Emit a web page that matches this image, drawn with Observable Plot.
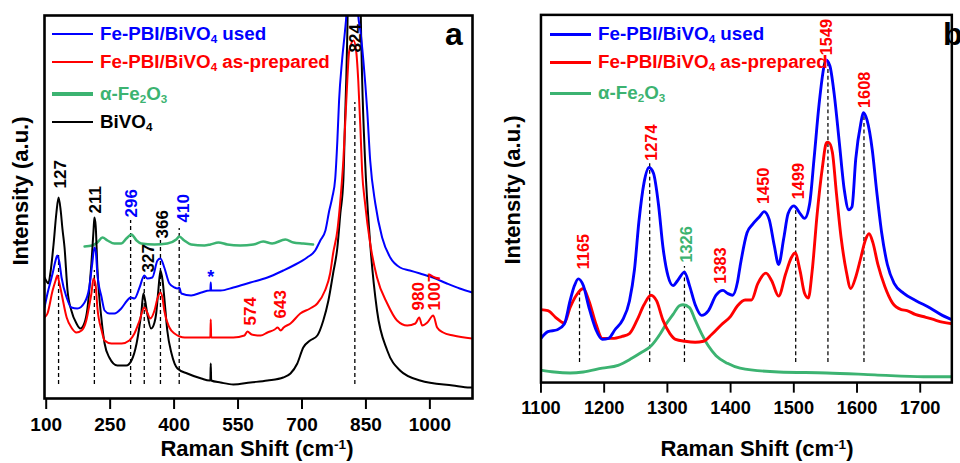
<!DOCTYPE html>
<html><head><meta charset="utf-8">
<script src="https://cdn.jsdelivr.net/npm/d3@7"></script>
<script src="https://cdn.jsdelivr.net/npm/@observablehq/plot@0.6"></script>
<style>
html,body{margin:0;padding:0;background:#fff;}
body{width:960px;height:463px;overflow:hidden;position:relative;font-family:"Liberation Sans",Arial,Helvetica,sans-serif;font-weight:bold;}
.panel{position:absolute;top:0;}
.lg{position:absolute;display:flex;align-items:center;height:20px;font-size:18.8px;line-height:1;white-space:nowrap;}
.sw{display:inline-block;width:41px;margin-right:7px;}
sub{font-size:0.62em;vertical-align:-0.28em;line-height:0;}
sup{font-size:0.62em;vertical-align:0.55em;line-height:0;}
.xt{position:absolute;top:438px;font-size:22px;line-height:22px;white-space:nowrap;transform:translateX(-50%);}
.yt{position:absolute;font-size:22px;line-height:22px;white-space:nowrap;transform:translate(-50%,-50%) rotate(-90deg);}
.tag{position:absolute;top:18px;font-size:32px;line-height:32px;}
</style></head>
<body>
<div id="pa" class="panel" style="left:0"></div>
<div id="pb" class="panel" style="left:480px"></div>
<div id="overlay"></div>
<script>
// ---------- Panel a data (Raman shift cm-1, intensity a.u.) ----------
const bivo4A = [[96,121],[101,117],[105,115],[110,126],[117,153],[124,186],[129,201],[134,188],[138,170],[143,151],[150,108],[159,88],[171,75],[180,70],[190,76],[197,91],[201,108],[206,135],[211,168],[213,181],[216,173],[220,131],[230,78],[237,55],[248,41],[267,33],[288,33],[300,38],[312,55],[319,73],[323,85],[328,105],[332,98],[337,85],[346,70],[354,76],[358,85],[363,108],[368,128],[373,118],[377,101],[384,68],[394,45],[408,30],[431,25],[464,20],[483,18],[485,18],[486,35],[487,18],[509,16],[539,14],[579,16],[619,18],[656,21],[673,25],[689,35],[703,51],[719,58],[736,63],[750,78],[762,98],[773,125],[783,151],[790,185],[797,218],[801,278],[804,321],[806,358],[823,898],[839,358],[841,321],[848,238],[860,155],[876,88],[900,48],[930,28],[977,18],[1054,13],[1094,11],[1100,11]];
const usedA = [[96,91],[103,105],[115,125],[122,138],[126,143],[131,136],[136,121],[148,101],[159,91],[173,90],[190,96],[201,111],[208,135],[213,151],[216,148],[220,125],[230,101],[237,88],[248,85],[260,85],[276,90],[290,98],[298,101],[307,100],[319,111],[330,123],[337,120],[349,121],[361,138],[368,140],[377,131],[389,115],[401,111],[408,110],[412,111],[417,105],[440,103],[464,106],[483,108],[485,108],[486,116],[487,108],[509,108],[539,111],[579,116],[619,121],[656,128],[680,133],[712,141],[731,148],[743,158],[755,168],[764,188],[771,201],[778,220],[783,258],[787,298],[794,338],[801,368],[804,383],[818,700],[832,383],[837,368],[844,338],[853,288],[860,238],[872,195],[888,161],[907,141],[930,131],[953,128],[977,125],[1007,121],[1040,115],[1070,110],[1100,106]];
const prepA = [[96,81],[103,85],[115,108],[122,118],[126,123],[131,115],[136,105],[148,81],[159,71],[171,66],[183,68],[194,78],[201,93],[206,105],[211,120],[216,113],[220,91],[230,68],[237,58],[253,55],[277,55],[295,58],[307,65],[319,78],[330,91],[337,86],[344,80],[354,88],[361,100],[368,106],[373,100],[377,88],[389,71],[401,65],[425,61],[455,61],[483,61],[485,61],[486,79],[487,61],[509,61],[539,61],[565,63],[572,67],[582,64],[603,63],[619,66],[636,69],[643,71],[650,68],[657,71],[673,75],[696,85],[719,90],[736,95],[754,108],[766,125],[773,145],[783,168],[790,198],[797,238],[804,298],[811,348],[821,358],[827,348],[832,318],[837,271],[841,228],[848,195],[860,155],[876,121],[900,95],[923,78],[947,73],[966,75],[975,81],[982,73],[994,76],[1008,83],[1017,71],[1031,66],[1055,63],[1100,60]];
const fe2o3A = [[190,152],[208,153],[220,156],[232,161],[244,158],[260,155],[276,155],[288,160],[300,164],[312,158],[323,155],[354,154],[384,155],[405,159],[412,162],[424,158],[440,154],[471,153],[485,154],[504,156],[525,154],[555,153],[586,154],[609,157],[630,155],[661,159],[680,156],[703,155],[726,154]];
const ticksA = [100,250,400,550,700,850,1000];
const dashXA = [129,213,298,330,368,412,824];
const dashTopA = [143,128,178,121,158,170,296];
const dashBottomA = 14;
const peakTextA = ["127","211","296","327","366","410","574","643","980","1007","824"];
const peakXA = [133,216,300,340,373,422,579,649,973,1010,825];
const peakYA = [210,185,181,126,160,176,73,80,88,88,346];
const peakSeriesA = ["k","k","u","k","k","u","p","p","p","p","k"];
const starA = [{x:486, y:121, t:"*"}];

// ---------- Panel b data ----------
const usedB = [[1100,46],[1111,53],[1126,55],[1137,61],[1146,85],[1153,101],[1159,108],[1167,101],[1176,78],[1187,55],[1197,45],[1207,46],[1217,55],[1229,65],[1240,85],[1248,118],[1255,168],[1263,208],[1271,224],[1278,218],[1286,185],[1293,141],[1301,111],[1309,101],[1316,106],[1327,115],[1335,101],[1344,81],[1354,70],[1365,75],[1377,91],[1388,96],[1395,93],[1403,91],[1411,105],[1415,121],[1426,156],[1435,165],[1446,173],[1453,178],[1461,170],[1469,143],[1476,123],[1484,150],[1491,176],[1500,184],[1510,176],[1517,171],[1525,186],[1532,233],[1540,290],[1548,330],[1551,336],[1557,330],[1564,300],[1572,250],[1580,200],[1587,180],[1592,183],[1598,233],[1606,270],[1610,281],[1616,273],[1624,243],[1631,200],[1639,156],[1648,123],[1659,103],[1674,93],[1694,85],[1715,78],[1735,70],[1752,65]];
const prepB = [[1100,76],[1111,75],[1123,68],[1137,62],[1146,78],[1156,91],[1167,98],[1176,85],[1187,61],[1197,46],[1213,46],[1228,48],[1240,51],[1252,65],[1263,81],[1274,91],[1283,85],[1293,65],[1304,51],[1313,45],[1328,43],[1344,42],[1357,43],[1370,50],[1385,60],[1400,69],[1411,80],[1423,86],[1433,86],[1443,103],[1456,114],[1465,106],[1476,90],[1487,113],[1496,130],[1502,135],[1510,116],[1517,93],[1523,88],[1529,116],[1537,176],[1545,223],[1552,250],[1555,250],[1561,240],[1567,200],[1575,150],[1583,116],[1590,98],[1598,110],[1606,130],[1613,148],[1619,155],[1625,146],[1633,123],[1644,100],[1656,83],[1670,76],[1679,75],[1692,71],[1709,68],[1724,65],[1735,63],[1752,61]];
const fe2o3B = [[1100,13],[1121,11],[1146,10],[1167,11],[1197,15],[1222,18],[1243,25],[1258,31],[1274,38],[1289,51],[1298,61],[1309,71],[1319,80],[1325,81],[1335,78],[1344,65],[1354,51],[1365,38],[1377,28],[1395,20],[1415,15],[1476,11],[1552,10],[1628,8],[1705,6],[1752,6]];
const ticksB = [1100,1200,1300,1400,1500,1600,1700];
const dashXB = [1161,1272,1327,1503,1554,1611];
const dashTopB = [98,228,121,183,336,281];
const dashBottomB = 21;
const peakTextB = ["1165","1274","1326","1383","1450","1499","1549","1608"];
const peakXB = [1167,1275,1330,1385,1453,1508,1552,1613];
const peakYB = [118,231,125,103,186,191,341,286];
const peakSeriesB = ["p","p","f","p","p","p","p","p"];

// ---------- styling ----------
const COLORS = {u:"#0000ff", p:"#ff0000", f:"#3cb371", k:"#000000"};
const FONT = "Liberation Sans, Arial, Helvetica, sans-serif";

function peakMarks(texts, xs, ys, series){
  const rows = texts.map((t,i)=>({t, x:xs[i], y:ys[i], s:series[i]}));
  return Object.keys(COLORS).map(k => Plot.text(rows.filter(d=>d.s===k), {
    x:"x", y:"y", text:"t", rotate:-90, textAnchor:"start", fill:COLORS[k],
    fontSize:17, fontWeight:"bold", fontFamily:FONT
  }));
}
function dashMarks(xs, tops, bottom){
  const rows = xs.map((x,i)=>({x, y2:tops[i], y1:bottom}));
  return Plot.ruleX(rows, {x:"x", y1:"y1", y2:"y2", stroke:"black", strokeWidth:1.3, strokeDasharray:"4,3"});
}
function line(data, color, w){
  return Plot.line(data, {x:d=>d[0], y:d=>d[1], stroke:color, strokeWidth:w, curve:"monotone-x", clip:true});
}

const commonStyle = {fontFamily:FONT, fontWeight:"bold", fontSize:"19px", background:"transparent", overflow:"visible"};

const plotA = Plot.plot({
  width:480, height:463, marginLeft:44, marginRight:8, marginTop:15, marginBottom:65,
  style: commonStyle,
  x:{domain:[96,1100], label:null},
  y:{domain:[0,383], axis:null},
  marks:[
    dashMarks(dashXA, dashTopA, dashBottomA),
    line(fe2o3A, COLORS.f, 2.5),
    line(bivo4A, COLORS.k, 2),
    line(prepA, COLORS.p, 2),
    line(usedA, COLORS.u, 2),
    ...peakMarks(peakTextA, peakXA, peakYA, peakSeriesA),
    Plot.text(starA, {x:"x", y:"y", text:"t", fill:COLORS.u, fontSize:18, fontWeight:"bold", fontFamily:FONT}),
    Plot.frame({stroke:"black", strokeWidth:2.6}),
    Plot.axisX({ticks:ticksA, tickSize:11, tickPadding:8, tickFormat:"d", label:null, strokeWidth:2, fontSize:19, fontWeight:"bold", fontFamily:FONT})
  ]
});
document.getElementById("pa").appendChild(plotA);

const plotB = Plot.plot({
  width:500, height:463, marginLeft:63, marginRight:9, marginTop:15, marginBottom:65,
  style: commonStyle,
  x:{domain:[1100,1750], label:null},
  y:{domain:[0,383], axis:null},
  marks:[
    dashMarks(dashXB, dashTopB, dashBottomB),
    line(fe2o3B, COLORS.f, 3),
    line(prepB, COLORS.p, 3),
    line(usedB, COLORS.u, 3),
    ...peakMarks(peakTextB, peakXB, peakYB, peakSeriesB),
    Plot.frame({stroke:"black", strokeWidth:2.6}),
    Plot.axisX({ticks:ticksB, tickSize:11, tickPadding:8, tickFormat:"d", label:null, strokeWidth:2, fontSize:19, fontWeight:"bold", fontFamily:FONT})
  ]
});
document.getElementById("pb").appendChild(plotB);

// ---------- overlay text: legends, titles, panel tags ----------
const legendA = [
  {html:"Fe-PBI/BiVO<sub>4</sub> used", c:COLORS.u, w:2},
  {html:"Fe-PBI/BiVO<sub>4</sub> as-prepared", c:COLORS.p, w:2},
  {html:"&alpha;-Fe<sub>2</sub>O<sub>3</sub>", c:COLORS.f, w:3.5},
  {html:"BiVO<sub>4</sub>", c:COLORS.k, w:2}
];
const legendB = [
  {html:"Fe-PBI/BiVO<sub>4</sub> used", c:COLORS.u, w:3},
  {html:"Fe-PBI/BiVO<sub>4</sub> as-prepared", c:COLORS.p, w:3},
  {html:"&alpha;-Fe<sub>2</sub>O<sub>3</sub>", c:COLORS.f, w:3}
];
const ov = document.getElementById("overlay");
function addLegend(items, left, rowsY){
  items.forEach((it,i)=>{
    const d = document.createElement("div");
    d.className = "lg";
    d.style.left = left+"px";
    d.style.top = (rowsY[i]-10)+"px";
    d.style.color = it.c;
    d.innerHTML = `<span class="sw" style="height:${it.w}px;background:${it.c}"></span><span>${it.html}</span>`;
    ov.appendChild(d);
  });
}
addLegend(legendA, 52, [34,62,94,122]);
addLegend(legendB, 550, [34,62,93]);

function addDiv(cls, html, style){
  const d = document.createElement("div");
  d.className = cls; d.innerHTML = html;
  Object.assign(d.style, style);
  ov.appendChild(d);
}
addDiv("xt", "Raman Shift (cm<sup>-1</sup>)", {left:"257px"});
addDiv("xt", "Raman Shift (cm<sup>-1</sup>)", {left:"757px"});
addDiv("yt", "Intensity (a.u.)", {left:"21px", top:"191px"});
addDiv("yt", "Intensity (a.u.)", {left:"513px", top:"190px"});
addDiv("tag", "a", {left:"445px"});
addDiv("tag", "b", {left:"943px"});
</script>
</body></html>
